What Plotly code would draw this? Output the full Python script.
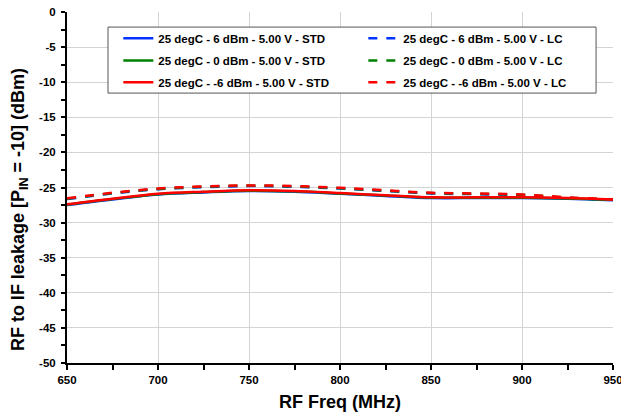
import plotly.graph_objects as go

freq = [650, 675, 700, 725, 750, 775, 800, 825, 850, 875, 900, 925, 950]

std_p6 = [-27.5, -26.7, -26.0, -25.7, -25.5, -25.6, -25.9, -26.2, -26.5, -26.5, -26.5, -26.6, -26.8]
std_0 = [-27.45, -26.65, -25.95, -25.65, -25.45, -25.55, -25.85, -26.15, -26.45, -26.45, -26.45, -26.55, -26.75]
std_m6 = [-27.4, -26.6, -25.9, -25.6, -25.4, -25.5, -25.8, -26.1, -26.4, -26.4, -26.4, -26.5, -26.7]

lc_p6 = [-26.65, -25.85, -25.25, -24.95, -24.8, -24.9, -25.15, -25.5, -25.85, -25.95, -26.1, -26.5, -26.75]
lc_0 = [-26.6, -25.8, -25.2, -24.9, -24.75, -24.85, -25.1, -25.45, -25.8, -25.9, -26.05, -26.45, -26.7]
lc_m6 = [-26.55, -25.75, -25.15, -24.85, -24.7, -24.8, -25.05, -25.4, -25.75, -25.85, -26.0, -26.4, -26.7]

x_tick_vals = [650, 700, 750, 800, 850, 900, 950]
x_tick_text = ["650", "700", "750", "800", "850", "900", "950"]
y_tick_vals = [0, -5, -10, -15, -20, -25, -30, -35, -40, -45, -50]
y_tick_text = ["0", "-5", "-10", "-15", "-20", "-25", "-30", "-35", "-40", "-45", "-50"]

x_title = "RF Freq (MHz)"
y_title = "RF to IF leakage [P<sub>IN</sub> = -10] (dBm)"

names = [
    "25 degC - 6 dBm - 5.00 V - STD",
    "25 degC - 6 dBm - 5.00 V - LC",
    "25 degC - 0 dBm - 5.00 V - STD",
    "25 degC - 0 dBm - 5.00 V - LC",
    "25 degC - -6 dBm - 5.00 V - STD",
    "25 degC - -6 dBm - 5.00 V - LC",
]
series = [std_p6, lc_p6, std_0, lc_0, std_m6, lc_m6]
colors = ["#0033ff", "#0033ff", "#008000", "#008000", "#ff0000", "#ff0000"]
dashes = ["solid", "dash", "solid", "dash", "solid", "dash"]
legend_ids = ["legend", "legend", "legend2", "legend2", "legend3", "legend3"]

fig = go.Figure()
for n, s, c, d, lg in zip(names, series, colors, dashes, legend_ids):
    fig.add_trace(go.Scatter(
        x=freq, y=s, name=n, mode="lines", legend=lg,
        line=dict(color=c, width=2.5, dash=d, shape="spline"),
    ))

font_family = "Liberation Sans, Arial, sans-serif"

# legend frame (layout decoration in paper coordinates)
fig.add_shape(type="rect", xref="paper", yref="paper",
              x0=0.0751, x1=0.969, y0=0.769, y1=0.957,
              line=dict(color="#555555", width=1), fillcolor="white", layer="above")


def legend_row(yc):
    return dict(
        orientation="h",
        x=0.094, y=yc, xanchor="left", yanchor="middle",
        entrywidth=200, entrywidthmode="pixels",
        font=dict(size=11.5, family=font_family, color="black", weight="bold"),
        borderwidth=0, bgcolor="rgba(0,0,0,0)",
        itemwidth=30,
    )


fig.add_annotation(
    text=y_title, textangle=-90, showarrow=False,
    xref="paper", yref="paper", x=-0.087, y=0.437,
    xanchor="center", yanchor="middle",
    font=dict(size=18, family=font_family, color="black", weight="bold"),
)

fig.update_layout(
    width=621, height=417,
    margin=dict(l=67, r=8, t=12, b=54, autoexpand=False),
    paper_bgcolor="white", plot_bgcolor="white",
    font=dict(family=font_family, color="black"),
    showlegend=True,
    legend=legend_row(0.925),
    legend2=legend_row(0.862),
    legend3=legend_row(0.800),
    xaxis=dict(
        range=[650, 950], automargin=False,
        tickmode="array", tickvals=x_tick_vals, ticktext=x_tick_text,
        ticklabeloverflow="allow",
        showgrid=True, gridcolor="#d4d4d4", gridwidth=1,
        showline=True, linecolor="black", linewidth=2,
        ticks="outside", ticklen=5, tickwidth=1.5, tickcolor="black",
        minor=dict(dtick=25, tick0=650, ticks="outside", ticklen=5, tickwidth=1.5, tickcolor="black", showgrid=False),
        tickfont=dict(size=11.5, family=font_family, weight="bold"),
        title=dict(text=x_title, font=dict(size=18, family=font_family, weight="bold"), standoff=11),
        zeroline=False,
    ),
    yaxis=dict(
        range=[-50, 0], automargin=False,
        tickmode="array", tickvals=y_tick_vals, ticktext=y_tick_text,
        showgrid=True, gridcolor="#d4d4d4", gridwidth=1,
        showline=True, linecolor="black", linewidth=2,
        ticks="outside", ticklen=4, tickwidth=1.5, tickcolor="black",
        minor=dict(dtick=2.5, tick0=0, ticks="outside", ticklen=4, tickwidth=1.5, tickcolor="black", showgrid=False),
        tickfont=dict(size=11.5, family=font_family, weight="bold"),
        ticklabelstandoff=3,
        zeroline=False,
    ),
)

fig.write_html("out.html", config={"displayModeBar": False},
               post_script="document.body.style.margin='0';")
